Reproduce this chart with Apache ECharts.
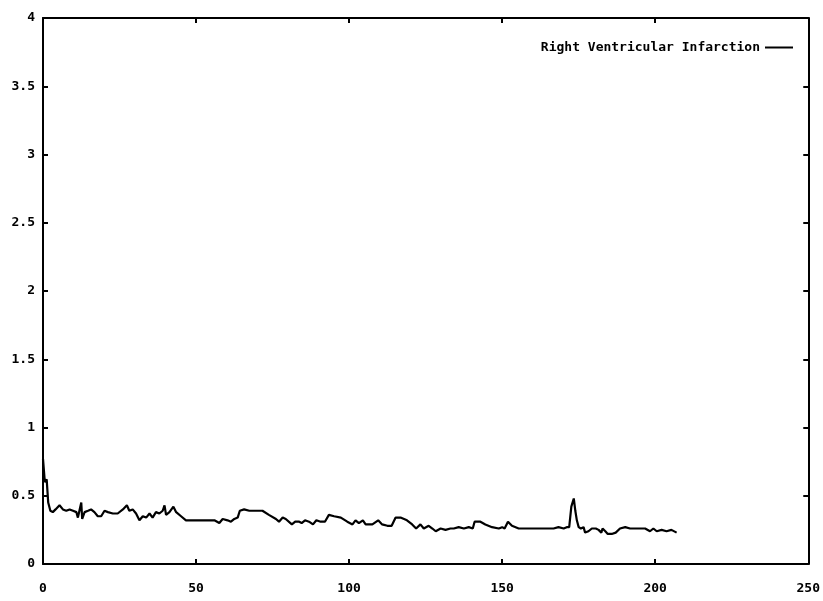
<!DOCTYPE html>
<html>
<head>
<meta charset="utf-8">
<script src="https://cdn.jsdelivr.net/npm/echarts@6/dist/echarts.min.js"></script>
<style>
  html, body { margin: 0; padding: 0; background: #fff; }
  #main { width: 823px; height: 601px; }
</style>
</head>
<body>
<div id="main"></div>
<script>
// values
var seriesName = 'Right Ventricular Infarction';

var xValues = [
  0, 0.6, 1.2, 1.7, 2.4, 3.2, 4.1, 5.4, 6.5, 7.6,
  8.7, 9.8, 10.9, 11.4, 11.9, 12.5, 12.8, 13.6, 14.7, 15.7,
  16.8, 17.9, 19.0, 20.1, 21.2, 22.8, 24.4, 26.1, 27.4, 28.2,
  29.3, 30.4, 31.5, 32.6, 33.7, 34.8, 35.8, 36.9, 38.0, 39.1,
  39.7, 40.2, 41.3, 42.6, 43.5, 45.1, 46.7, 48.3, 50.0, 52.2,
  54.3, 56.0, 57.6, 58.7, 60.3, 61.4, 62.5, 63.6, 64.3, 65.7,
  67.4, 71.7, 73.8, 76.1, 77.1, 78.3, 79.3, 81.3, 82.4, 83.7,
  84.5, 85.6, 86.9, 88.2, 89.3, 90.7, 92.1, 93.4, 95.1, 97.3,
  99.4, 101.1, 102.1, 103.2, 104.5, 105.4, 107.6, 109.5, 110.8, 112.5,
  113.9, 115.2, 116.8, 118.9, 120.6, 121.9, 123.3, 124.4, 126.0, 127.2,
  128.3, 129.9, 131.5, 133.1, 134.2, 135.8, 137.5, 139.1, 140.4, 141.0,
  142.9, 144.5, 146.7, 148.9, 150.0, 150.8, 151.9, 153.2, 155.4, 157.6,
  160.8, 165.2, 166.8, 168.4, 170.1, 171.1, 171.9, 172.6, 173.4, 173.9,
  174.4, 175.0, 175.7, 176.6, 177.1, 178.2, 179.3, 180.6, 181.5, 182.4,
  182.8, 183.7, 184.5, 185.8, 187.1, 188.5, 190.2, 191.8, 193.4, 195.1,
  196.7, 198.3, 199.4, 200.5, 202.1, 203.7, 205.3, 207.0
];

var yValues = [
  0.77, 0.60, 0.62, 0.45, 0.39, 0.38, 0.40, 0.43, 0.40, 0.39,
  0.40, 0.39, 0.38, 0.34, 0.39, 0.45, 0.33, 0.38, 0.39, 0.40,
  0.38, 0.35, 0.35, 0.39, 0.38, 0.37, 0.37, 0.40, 0.43, 0.39,
  0.40, 0.37, 0.32, 0.35, 0.34, 0.37, 0.34, 0.38, 0.37, 0.39,
  0.43, 0.36, 0.38, 0.42, 0.38, 0.35, 0.32, 0.32, 0.32, 0.32,
  0.32, 0.32, 0.30, 0.33, 0.32, 0.31, 0.33, 0.34, 0.39, 0.40,
  0.39, 0.39, 0.36, 0.33, 0.31, 0.34, 0.33, 0.29, 0.31, 0.31,
  0.30, 0.32, 0.31, 0.29, 0.32, 0.31, 0.31, 0.36, 0.35, 0.34,
  0.31, 0.29, 0.32, 0.30, 0.32, 0.29, 0.29, 0.32, 0.29, 0.28,
  0.28, 0.34, 0.34, 0.32, 0.29, 0.26, 0.29, 0.26, 0.28, 0.26,
  0.24, 0.26, 0.25, 0.26, 0.26, 0.27, 0.26, 0.27, 0.26, 0.31,
  0.31, 0.29, 0.27, 0.26, 0.27, 0.26, 0.31, 0.28, 0.26, 0.26,
  0.26, 0.26, 0.26, 0.27, 0.26, 0.27, 0.27, 0.42, 0.48, 0.39,
  0.32, 0.27, 0.26, 0.27, 0.23, 0.24, 0.26, 0.26, 0.25, 0.23,
  0.26, 0.24, 0.22, 0.22, 0.23, 0.26, 0.27, 0.26, 0.26, 0.26,
  0.26, 0.24, 0.26, 0.24, 0.25, 0.24, 0.25, 0.23
];

var xMin = 0, xMax = 250, xStep = 50;
var yMin = 0, yMax = 4, yStep = 0.5;

var font = 'DejaVu Sans Mono';

var points = xValues.map(function (x, i) { return [x, yValues[i]]; });

function frameAxis(pos, min, max, step, showLabel) {
  return {
    type: 'value',
    position: pos,
    min: min,
    max: max,
    interval: step,
    axisLine: { show: true, onZero: false, lineStyle: { color: '#000', width: 2 } },
    axisTick: { show: true, inside: true, length: 5, lineStyle: { color: '#000', width: 2 } },
    axisLabel: {
      show: showLabel,
      color: '#000',
      fontFamily: font,
      fontWeight: 'bold',
      fontSize: 13,
      margin: (pos === 'bottom') ? 18 : 8
    },
    splitLine: { show: false }
  };
}

var myChart = echarts.init(document.getElementById('main'));

var option = {
  animation: false,
  backgroundColor: '#fff',
  grid: { left: 43, right: 13, top: 18, bottom: 37 },
  legend: {
    data: [seriesName],
    right: 25,
    top: 36,
    align: 'right',
    icon: 'rect',
    itemWidth: 28,
    itemHeight: 2,
    itemStyle: { color: '#000' },
    textStyle: { color: '#000', fontFamily: font, fontWeight: 'bold', fontSize: 13 }
  },
  xAxis: [
    frameAxis('bottom', xMin, xMax, xStep, true),
    frameAxis('top', xMin, xMax, xStep, false)
  ],
  yAxis: [
    frameAxis('left', yMin, yMax, yStep, true),
    frameAxis('right', yMin, yMax, yStep, false)
  ],
  series: [{
    name: seriesName,
    type: 'line',
    xAxisIndex: 0,
    yAxisIndex: 0,
    symbol: 'none',
    lineStyle: { color: '#000', width: 2.2 },
    itemStyle: { color: '#000' },
    data: points
  }]
};

myChart.setOption(option);
</script>
</body>
</html>
